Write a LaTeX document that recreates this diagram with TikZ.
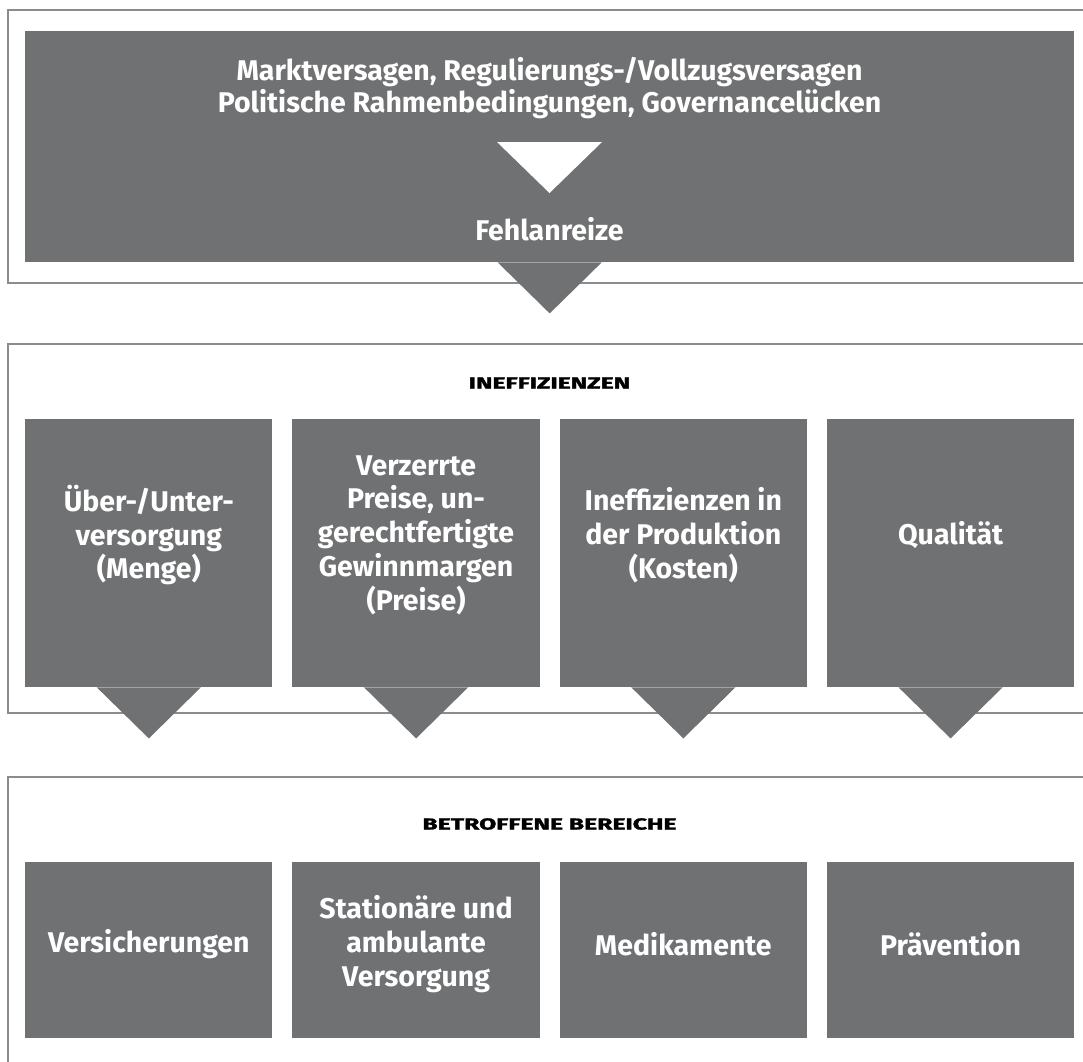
\documentclass[tikz,border=0pt]{standalone}
\usepackage{fontspec}
\setmainfont{Fira Sans}
\usetikzlibrary{calc}
\definecolor{boxgray}{HTML}{707173}
\definecolor{framegray}{HTML}{8C8C8C}
\tikzset{
  frameline/.style={draw=framegray, line width=2pt},
  darkbox/.style={fill=boxgray, draw=none, inner sep=0pt, anchor=north west},
  boxtext/.style={text=white, align=center, font=\bfseries\fontsize{28.5}{33.7}\selectfont},
  toptext/.style={text=white, align=center, font=\bfseries\fontsize{28.5}{32}\selectfont},
  heading/.style={text=black, font=\bfseries\fontsize{16}{18}\selectfont\addfontfeature{FakeBold=1.5}}
}
\newcommand{\tri}[2]{\fill[#2] ($(#1.south)+(-52,0)$) -- ++(104,0) -- ++(-52,51) -- cycle;}
\newcommand{\wide}[1]{\scalebox{1.55}[1]{#1}}
\begin{document}
\begin{tikzpicture}[x=1pt,y=-1pt]
\useasboundingbox (0,0) rectangle (1083,1061);
% frames
\draw[frameline] (1085,10) -- (8,10) -- (8,283) -- (1085,283);
\draw[frameline] (1085,344) -- (8,344) -- (8,713) -- (1085,713);
\draw[frameline] (1085,777) -- (8,777) -- (8,1065);
% top box
\node[darkbox, minimum width=1049pt, minimum height=231pt] (top) at (25,31) {};
\node[toptext] (causes) at (549.5,88) {Marktversagen, Regulierungs-/Vollzugsversagen\\Politische Rahmenbedingungen, Governancelücken};
\fill[white] (497,142) -- (602,142) -- (549.5,193) -- cycle;
\node[toptext] (fehl) at (549.5,229) {Fehlanreize};
\tri{top}{boxgray}
% headings
\node[heading] (h1) at (549.5,383) {\wide{INEFFIZIENZEN}};
\node[heading] (h2) at (549.5,824) {\wide{BETROFFENE BEREICHE}};
% boxes
\foreach \i/\x in {1/25,2/292.25,3/559.5,4/826.75}{
  \node[darkbox, minimum width=247.25pt, minimum height=268pt] (a\i) at (\x,419) {};
  \node[darkbox, minimum width=247.25pt, minimum height=176pt] (b\i) at (\x,862) {};
}
\foreach \i in {1,2,3,4}{\tri{a\i}{boxgray}}
\node[boxtext] (t1) at ($(a1.north)+(0,116)$) {Über-/Unter-\\versorgung\\(Menge)};
\node[boxtext] (t2) at ($(a2.north)+(0,116)$) {Verzerrte\\Preise, un-\\gerechtfertigte\\Gewinnmargen\\(Preise)};
\node[boxtext] (t3) at ($(a3.north)+(0,116)$) {Ineffizienzen in\\der Produktion\\(Kosten)};
\node[boxtext] (t4) at ($(a4.north)+(0,116)$) {Qualität};
\node[boxtext] (u1) at ($(b1.north)+(0,82)$) {Versicherungen};
\node[boxtext] (u2) at ($(b2.north)+(0,82)$) {Stationäre und\\ambulante\\Versorgung};
\node[boxtext] (u3) at ($(b3.north)+(0,82)$) {Medikamente};
\node[boxtext] (u4) at ($(b4.north)+(0,82)$) {Prävention};
\end{tikzpicture}
\end{document}
